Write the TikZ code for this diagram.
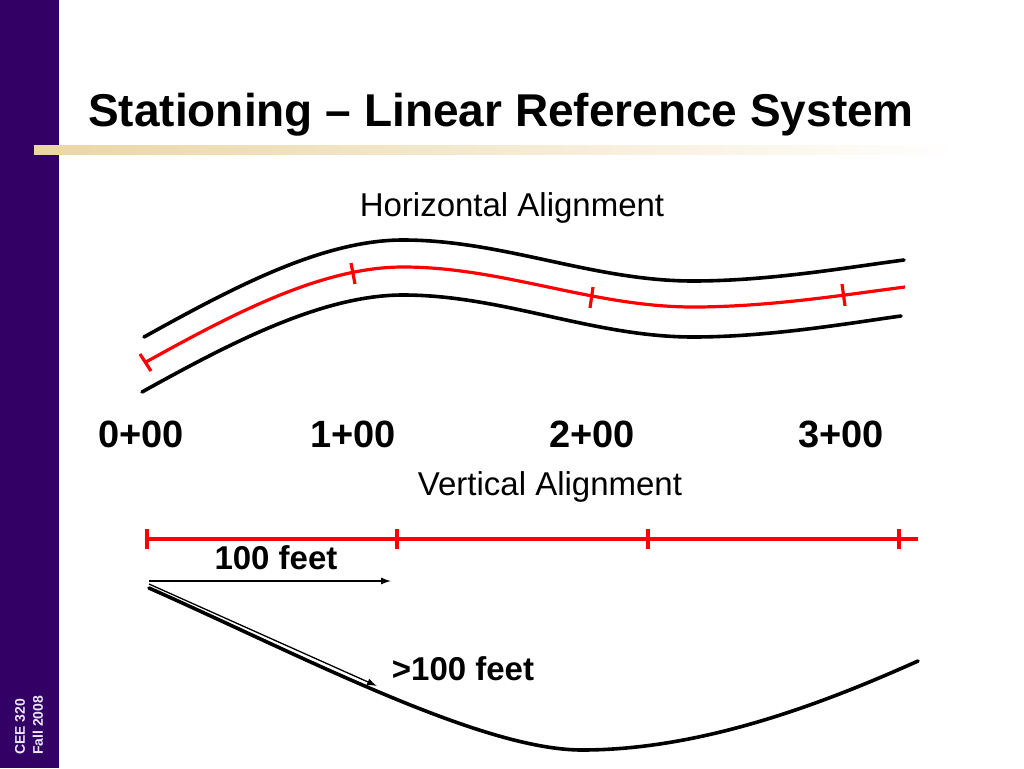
\documentclass[tikz,border=0pt]{standalone}
\usepackage{fontspec}
\setmainfont{Liberation Sans}
\usetikzlibrary{arrows.meta}
\definecolor{sidepurple}{RGB}{51,0,102}
\definecolor{sidetext}{RGB}{236,230,246}
\definecolor{barbeige}{RGB}{234,214,164}

\begin{document}
\begin{tikzpicture}[
  x=1pt, y=-1pt,
  road/.style={line width=3.6pt, line cap=round},
  centre/.style={line width=3.2pt, red},
  stationtick/.style={line width=3.2pt, red},
  heading/.style={font=\fontsize{33}{36}\selectfont, anchor=base, inner sep=0pt},
  station/.style={font=\bfseries\fontsize{38}{40}\selectfont, anchor=base, inner sep=0pt},
  dist/.style={font=\bfseries\fontsize{33}{36}\selectfont, anchor=base, inner sep=0pt},
  measure/.style={line width=1.3pt, -{Latex[length=10pt,width=7pt]}},
  sidetag/.style={font=\bfseries\fontsize{14}{18}\selectfont, text=sidetext, inner sep=0pt}
]

\useasboundingbox (0,0) rectangle (1024,768);
\fill[white] (0,0) rectangle (1024,768);
\fill[sidepurple] (0,0) rectangle (59,768);
\shade[left color=barbeige, middle color=barbeige!70, right color=white] (34,145) rectangle (960,154);

\node[font=\bfseries\fontsize{46}{50}\selectfont, anchor=base west, inner sep=0pt] (title) at (88,126) {Stationing -- Linear Reference System};
\node[sidetag, rotate=90, anchor=north west, align=left] (course) at (15,755) {CEE 320\\Fall 2008};

\node[heading] (horiz) at (512,216) {Horizontal Alignment};

\draw[road] (144,337) .. controls (234,287) and (323,240) .. (403,240)
  .. controls (503,240) and (593,281) .. (693,281)
  .. controls (770,281) and (850,267) .. (904,260);
\draw[centre] (146,362) .. controls (236,312) and (323,267) .. (403,267)
  .. controls (503,267) and (593,307) .. (693,307)
  .. controls (770,307) and (850,294) .. (905,287);
\draw[road] (142,392) .. controls (232,342) and (323,295) .. (403,295)
  .. controls (503,295) and (593,337) .. (693,337)
  .. controls (770,337) and (850,323) .. (901,316);

\draw[stationtick] (140,354) -- (151,371);
\draw[stationtick] (351,263) -- (355,284);
\draw[stationtick] (593,287) -- (590,308);
\draw[stationtick] (842,284) -- (845,306);

\node[station] (s0) at (141,447) {0+00};
\node[station] (s1) at (353,447) {1+00};
\node[station] (s2) at (592,447) {2+00};
\node[station] (s3) at (841,447) {3+00};

\node[heading] (vert) at (550,495) {Vertical Alignment};

\coordinate (v0) at (147,539);
\coordinate (v3) at (918,539);
\draw[centre] (v0) -- (v3);
\foreach \x in {147,397,648,899}
  \draw[stationtick] (\x,529) -- (\x,549);

\draw[road] (149,588) .. controls (300,655) and (480,750) .. (582,750)
  .. controls (700,750) and (820,705) .. (918,661);

\coordinate (start) at (149,581);
\coordinate (flatend) at (391,581);
\coordinate (slopestart) at (149,584);
\coordinate (slopeend) at (377,686);
\draw[measure] (start) -- (flatend);
\draw[measure] (slopestart) -- (slopeend);

\node[dist] (flat) at (276,569) {100 feet};
\node[dist] (slope) at (463,680) {>100 feet};

\end{tikzpicture}
\end{document}
